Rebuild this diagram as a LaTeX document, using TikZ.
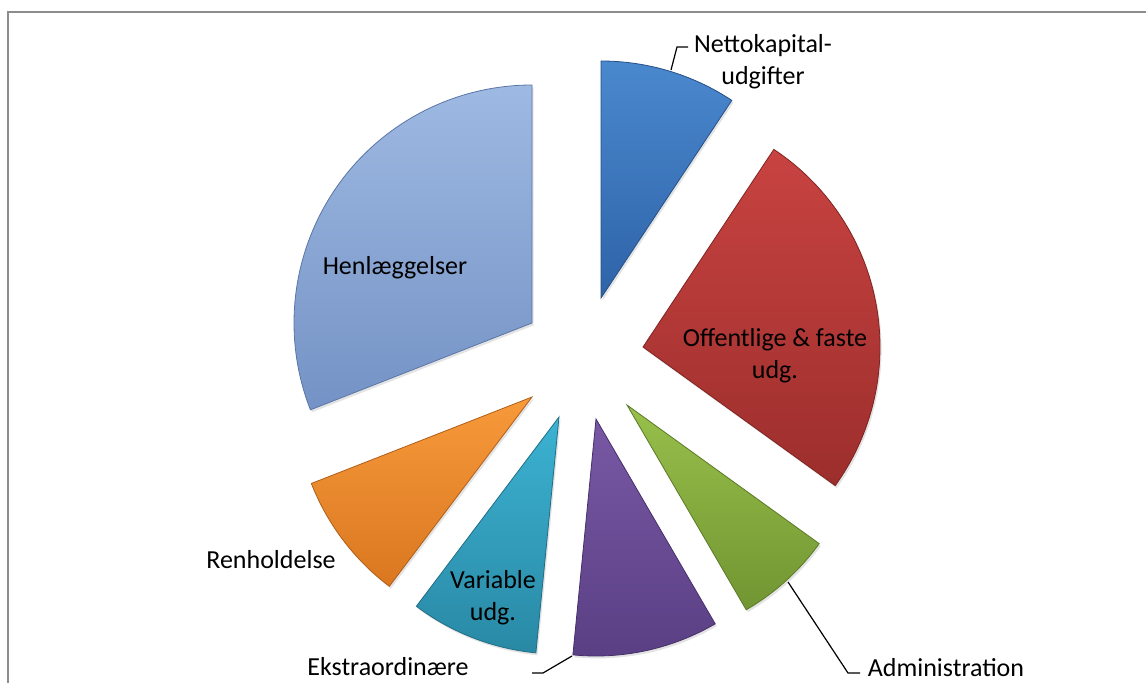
\documentclass[tikz,border=0pt]{standalone}
\usepackage{fontspec}
\setmainfont{Carlito}
\usetikzlibrary{shadows}
\definecolor{blT}{HTML}{4A88CE}\definecolor{blB}{HTML}{2E63A8}\definecolor{blD}{HTML}{264F86}
\definecolor{rdT}{HTML}{C84341}\definecolor{rdB}{HTML}{9C2E2C}\definecolor{rdD}{HTML}{7E2422}
\definecolor{grT}{HTML}{98C04B}\definecolor{grB}{HTML}{719532}\definecolor{grD}{HTML}{5A7A26}
\definecolor{puT}{HTML}{7858A4}\definecolor{puB}{HTML}{5A3F84}\definecolor{puD}{HTML}{47306A}
\definecolor{cyT}{HTML}{3CB2D2}\definecolor{cyB}{HTML}{2989A5}\definecolor{cyD}{HTML}{1F6E86}
\definecolor{orT}{HTML}{F79A3B}\definecolor{orB}{HTML}{DA7720}\definecolor{orD}{HTML}{B05E18}
\definecolor{hlT}{HTML}{9EB9E2}\definecolor{hlB}{HTML}{7492C5}\definecolor{hlD}{HTML}{5A76A6}
\definecolor{frame}{HTML}{8C8C8C}
\tikzset{
  slice/.style={draw=#1, line width=0.4pt,
    preaction={drop shadow={opacity=0.22, shadow xshift=0.8pt, shadow yshift=-1.2pt}}},
  lbl/.style={font=\fontsize{13}{15.9}\selectfont, align=center, inner sep=0pt, text=black},
  leader/.style={draw=black, line width=0.6pt},
}
\begin{document}
\begin{tikzpicture}[x=0.5pt,y=0.5pt]
\useasboundingbox (0,0) rectangle (1146,682);
% frame
\draw[frame, line width=1pt] (8,-2) -- (8,670) -- (1148,670);
% slices
\path[slice=blD, top color=blT, bottom color=blB]
  (601,384) -- ++(90:118.5pt) arc[start angle=90, end angle=56.5, radius=118.5pt] -- cycle;
\path[slice=rdD, top color=rdT, bottom color=rdB]
  (643,335) -- ++(56.5:118.5pt) arc[start angle=56.5, end angle=-35.8, radius=118.5pt] -- cycle;
\path[slice=grD, top color=grT, bottom color=grB]
  (627,277) -- ++(-35.8:118.5pt) arc[start angle=-35.8, end angle=-59.8, radius=118.5pt] -- cycle;
\path[slice=puD, top color=puT, bottom color=puB]
  (596,263) -- ++(-59.8:118.5pt) arc[start angle=-59.8, end angle=-95.6, radius=118.5pt] -- cycle;
\path[slice=cyD, top color=cyT, bottom color=cyB]
  (559,265) -- ++(-95.6:118.5pt) arc[start angle=-95.6, end angle=-127, radius=118.5pt] -- cycle;
\path[slice=orD, top color=orT, bottom color=orB]
  (532,285) -- ++(-127:118.5pt) arc[start angle=-127, end angle=-158.6, radius=118.5pt] -- cycle;
\path[slice=hlD, top color=hlT, bottom color=hlB]
  (532,359) -- ++(90:119pt) arc[start angle=90, end angle=201.4, radius=119pt] -- cycle;
% labels
\node[lbl] (netto) at (763,620) {Nettokapital-\\udgifter};
\node[lbl] (off) at (775,326) {Offentlige \& faste\\udg.};
\node[lbl] (henl) at (395,414) {Henlæggelser};
\node[lbl] (renh) at (271,122) {Renholdelse};
\node[lbl] (var) at (493,84) {Variable\\udg.};
\node[lbl] (ekstra) at (388,15) {Ekstraordinære};
\node[lbl] (admin) at (946,14) {Administration};
% leader lines
\coordinate (nA) at (671,612); \coordinate (nB) at (677,635); \coordinate (nC) at (688,635);
\coordinate (aA) at (788,100); \coordinate (aB) at (848,9); \coordinate (aC) at (860,9);
\coordinate (eA) at (572,26); \coordinate (eB) at (543,9); \coordinate (eC) at (532,9);
\draw[leader] (nA) -- (nB) -- (nC);
\draw[leader] (aA) -- (aB) -- (aC);
\draw[leader] (eA) -- (eB) -- (eC);
\end{tikzpicture}
\end{document}
